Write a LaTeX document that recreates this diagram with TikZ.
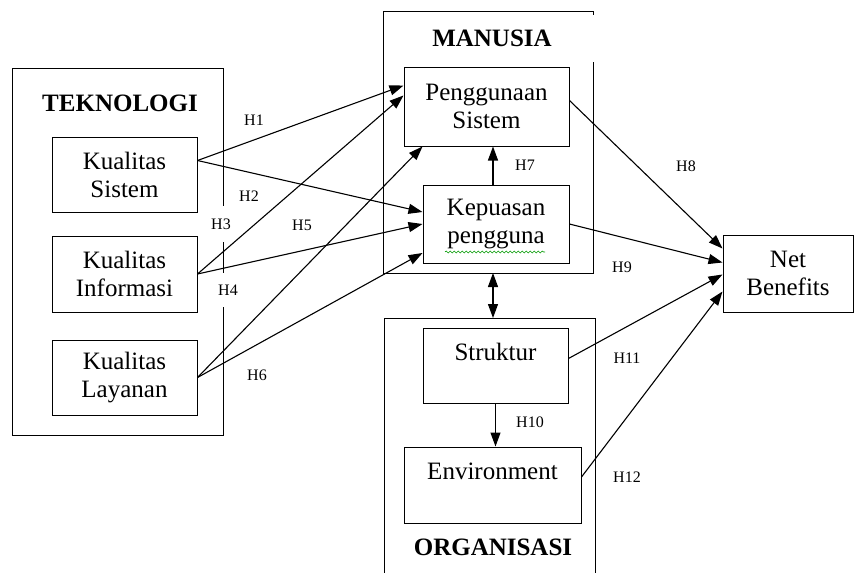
\documentclass[tikz,border=0pt]{standalone}
\usepackage{fontspec}
\setmainfont{Liberation Serif}
\usetikzlibrary{arrows.meta,decorations.pathmorphing}
\begin{document}
\begin{tikzpicture}[x=1pt,y=-1pt,
        box/.style={draw,line width=1pt,align=center,inner sep=0pt,font=\fontsize{25}{28}\selectfont},
        arrow/.style={line width=1.1pt,-{Triangle[length=14pt,width=10pt]}},
        biarrow/.style={line width=1.1pt,{Triangle[length=14pt,width=10pt]}-{Triangle[length=14pt,width=10pt]}},
        hyp/.style={inner sep=1pt,font=\fontsize{16}{18}\selectfont},
        grouptitle/.style={font=\fontsize{25}{28}\selectfont\bfseries}]
            \useasboundingbox (0,0) rectangle (855,573);

            \coordinate (ManusiaBottom) at (493,273);
            \coordinate (OrganisasiTop) at (493,318);

            \draw[line width=1pt] (12,68) rectangle (223,435);
            \draw[line width=1pt] (593,62)--(593,273)--(383,273)--(383,11)--(593,11)--(593,15);
            \draw[line width=1pt] (384,573)--(384,318)--(595,318)--(595,573);

            \node[grouptitle] (Teknologi) at (120,103) {TEKNOLOGI};
            \node[grouptitle] (Manusia) at (492,38) {MANUSIA};
            \node[grouptitle] (Organisasi) at (493,547) {ORGANISASI};

            \node[box,minimum width=145pt,minimum height=75pt] (KualitasSistem) at (124.5,174.5) {Kualitas\\Sistem};
            \node[box,minimum width=145pt,minimum height=76pt] (KualitasInformasi) at (124.5,274) {Kualitas\\Informasi};
            \node[box,minimum width=145pt,minimum height=75pt] (KualitasLayanan) at (124.5,377.5) {Kualitas\\Layanan};
            \node[box,minimum width=165pt,minimum height=79pt] (PenggunaanSistem) at (486.5,106.5) {Penggunaan\\Sistem};
            \node[box,minimum width=146pt,minimum height=78pt] (KepuasanPengguna) at (496,224) {Kepuasan\\pengguna};
            \node[box,minimum width=145pt,minimum height=75pt] (Struktur) at (495.5,365.5) {Struktur\\\mbox{}};
            \node[box,minimum width=177pt,minimum height=76pt] (Environment) at (492.5,485) {Environment\\\mbox{}};
            \node[box,minimum width=130pt,minimum height=77pt] (NetBenefits) at (788,273.5) {Net\\Benefits};

            \draw[green!60!black,line width=0.6pt,decorate,decoration={snake,amplitude=1pt,segment length=4pt}] (445,252) -- (545,252);

            \node[hyp] (HOne) at (254,120) {H1};
            \node[hyp] (HTwo) at (249,196) {H2};
            \node[hyp,fill=white,minimum height=36pt] (HThree) at (221,224) {H3};
            \node[hyp,fill=white,minimum height=34pt] (HFour) at (228,290) {H4};
            \node[hyp] (HFive) at (302,225) {H5};
            \node[hyp] (HSix) at (257,375) {H6};
            \node[hyp] (HSeven) at (525,165) {H7};
            \node[hyp] (HEight) at (686,166) {H8};
            \node[hyp] (HNine) at (622,267) {H9};
            \node[hyp] (HTen) at (530,422) {H10};
            \node[hyp] (HEleven) at (627,358) {H11};
            \node[hyp] (HTwelve) at (627,477) {H12};

            \draw[arrow] ([yshift=14pt]KualitasSistem.east) -- ([yshift=21pt]PenggunaanSistem.west);
            \draw[arrow] ([yshift=14pt]KualitasSistem.east) -- ([yshift=12pt]KepuasanPengguna.west);
            \draw[arrow] (KualitasInformasi.east) -- ([yshift=11pt]PenggunaanSistem.west);
            \draw[arrow] (KualitasInformasi.east) -- (KepuasanPengguna.west);
            \draw[arrow] (KualitasLayanan.east) -- ([xshift=-64pt]PenggunaanSistem.south);
            \draw[arrow] (KualitasLayanan.east) -- ([yshift=-29pt]KepuasanPengguna.west);
            \draw[arrow] ([xshift=-3pt]KepuasanPengguna.north) -- ([xshift=-3pt]KepuasanPengguna.north |- PenggunaanSistem.south);
            \draw[biarrow] (ManusiaBottom) -- (OrganisasiTop);
            \draw[arrow] (Struktur.south) -- (Struktur.south |- Environment.north);
            \draw[arrow] ([yshift=6pt]PenggunaanSistem.east) -- ([yshift=25pt]NetBenefits.west);
            \draw[arrow] (KepuasanPengguna.east) -- ([yshift=11pt]NetBenefits.west);
            \draw[arrow] ([yshift=7pt]Struktur.east) -- ([yshift=-1pt]NetBenefits.west);
            \draw[arrow] ([yshift=8pt]Environment.east) -- ([yshift=-18pt]NetBenefits.west);
        \end{tikzpicture}
\end{document}
